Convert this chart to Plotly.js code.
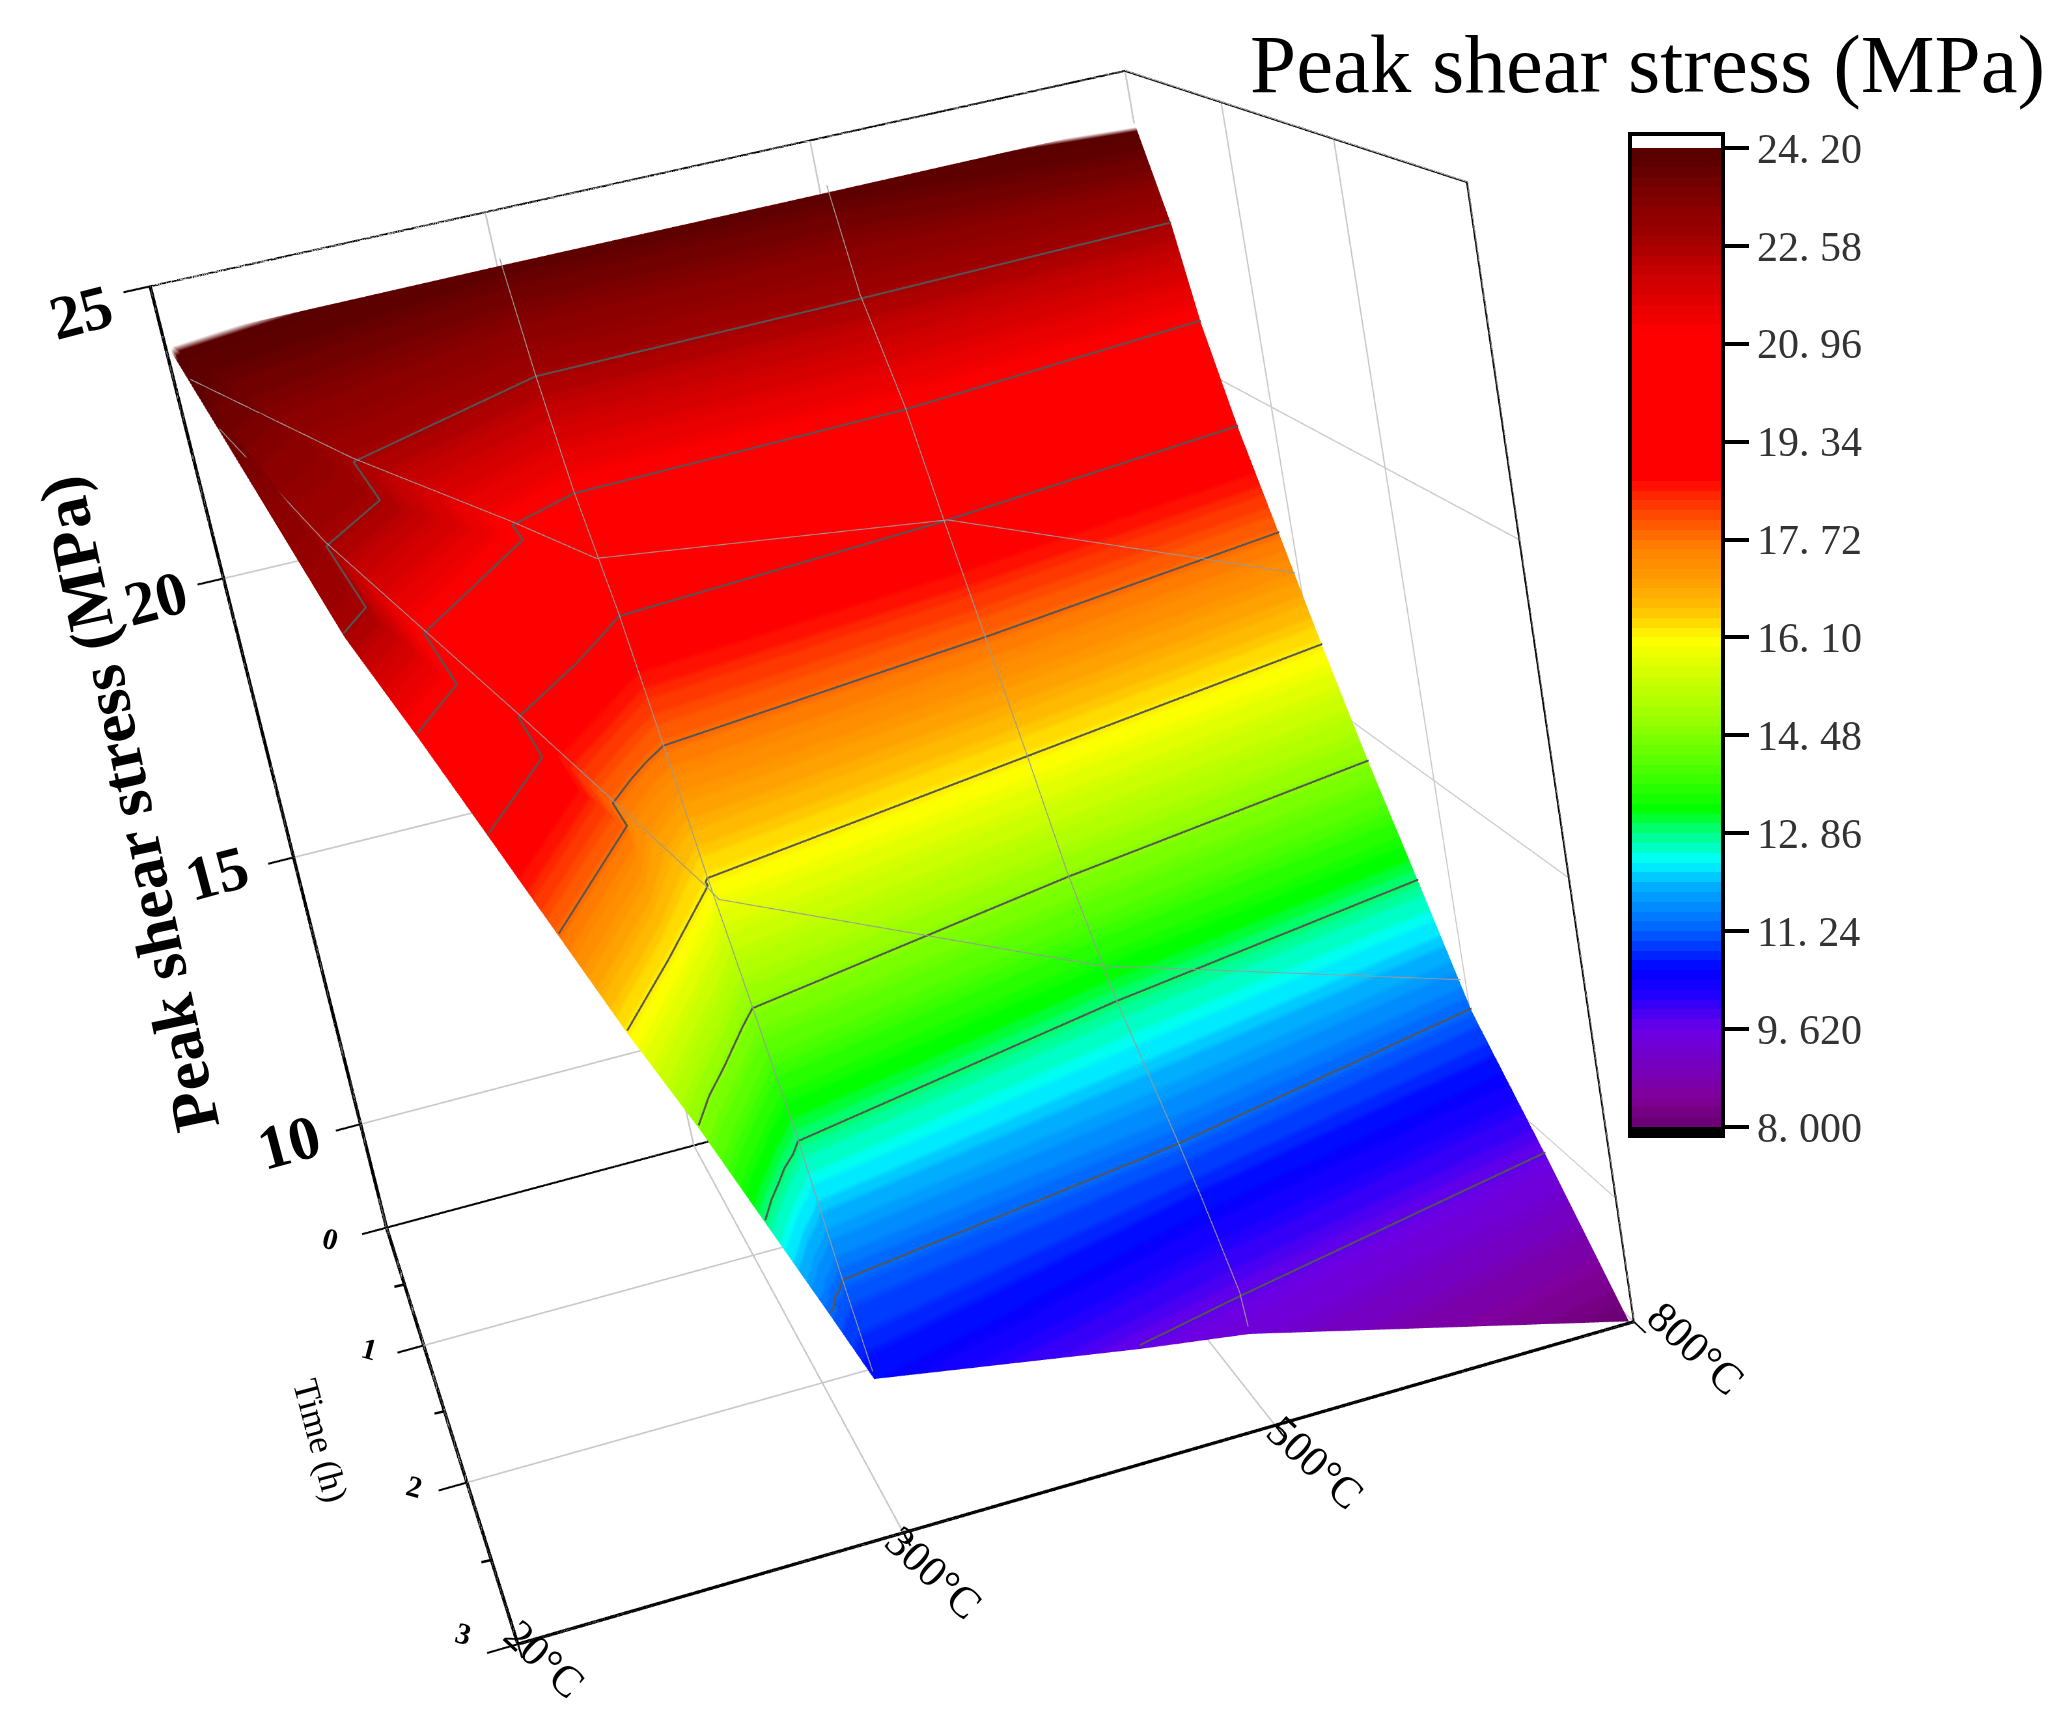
<!DOCTYPE html><html><head><meta charset="utf-8"><script src="https://cdn.plot.ly/plotly-3.0.1.min.js"></script></head><body style="margin:0;background:#fff;overflow:hidden;width:2070px;height:1735px;position:relative">
<div id="g" style="position:absolute;left:-1013px;top:-849px;width:4096px;height:3433px"></div>
<script>
// temperature categories sit at index 0..3 on the x axis, time (h) on the y axis
const tempLabels=['20°C','300°C','500°C','800°C'];
const timeLabels=['0','1','2','3'];
const stressTicks=[10,15,20,25];
const minorTicks=[0.5,1.5,2.5];
// surface vertices: one row per stress level
const tempRows=[
[0,0,0,0,0,1.01,2.02,2.97],
[0.17,0.24,0.22,0.40,0.39,0.99,1.98,2.97],
[0.28,0.42,0.41,0.78,0.78,0.99,1.99,2.98],
[0.39,0.60,0.60,0.81,0.90,1.00,1.99,2.98],
[0.50,0.79,0.79,0.87,0.93,1.00,1.99,2.99],
[0.61,0.79,0.98,0.99,0.99,1.00,1.99,2.99],
[0.73,0.79,0.86,0.91,0.96,1.01,1.99,2.99],
[0.84,0.88,0.92,0.95,0.99,1.02,2.00,2.99],
[0.95,0.97,0.98,1.00,1.01,1.02,2.01,2.99],
[1.01,1.01,1.01,1.01,1.01,1.01,2.01,2.99],
[1.70,1.70,1.70,1.70,1.70,1.70,2.01,2.99],
[1.70,1.70,1.70,1.70,1.70,1.70,1.99,2.99]];
const timeRows=[
[0.16,0.16,0.16,0.16,0.16,0.02,0.02,0.12],
[2.99,2.85,2.09,1.69,1.11,0.48,0.43,0.35],
[2.98,2.62,2.03,1.24,1.03,0.81,0.73,0.46],
[2.94,2.40,1.97,1.58,1.39,1.17,0.98,0.68],
[2.92,2.19,1.96,1.78,1.66,1.54,1.25,0.90],
[2.90,2.46,1.97,1.94,1.91,1.88,1.52,1.16],
[2.89,2.71,2.54,2.41,2.28,2.16,1.77,1.44],
[2.89,2.77,2.67,2.59,2.51,2.43,2.04,1.74],
[2.89,2.85,2.80,2.77,2.74,2.71,2.43,2.05],
[2.99,2.99,2.99,2.99,2.99,2.99,2.60,2.24],
[2.95,2.95,2.95,2.95,2.95,2.95,2.83,2.51],
[2.95,2.95,2.95,2.95,2.95,2.95,2.94,2.99]];
const stressRows=[
[24.2,24.2,24.2,24.2,24.2,24.1,24.1,24.2],
[22.5,22.58,22.58,22.58,22.58,22.58,22.58,22.58],
[20.96,20.96,20.96,20.96,20.96,20.96,20.96,20.96],
[19.34,19.34,19.34,19.34,19.34,19.34,19.34,19.34],
[17.72,17.72,17.72,17.72,17.72,17.72,17.72,17.72],
[16.1,16.1,16.1,16.1,16.1,16.1,16.1,16.1],
[14.48,14.48,14.48,14.48,14.48,14.48,14.48,14.48],
[12.86,12.86,12.86,12.86,12.86,12.86,12.86,12.9],
[11.24,11.24,11.24,11.24,11.24,11.24,11.24,11.24],
[10.4,10.4,10.4,10.4,10.4,10.4,10.6,10.6],
[9.62,9.62,9.62,9.62,9.62,9.62,9.62,9.7],
[9.62,9.62,9.62,9.62,9.62,9.62,9.35,8.0]];
const colorRows=[
[24.2,24.2,24.2,24.2,24.2,23.9,23.9,24.2],
[22.58,22.58,22.58,22.58,22.58,22.58,22.58,22.58],
[20.96,20.96,20.96,20.96,20.96,20.96,20.96,20.96],
[19.34,19.34,19.34,19.34,19.34,19.34,19.34,19.34],
[17.72,17.72,17.72,17.72,17.72,17.72,17.72,17.72],
[16.1,16.1,16.1,16.1,16.1,16.1,16.1,16.1],
[14.48,14.48,14.48,14.48,14.48,14.48,14.48,14.48],
[12.86,12.86,12.86,12.86,12.86,12.86,12.86,12.86],
[11.24,11.24,11.24,11.24,11.24,11.24,11.24,11.24],
[10.6,10.6,10.6,10.6,10.6,10.6,10.6,10.6],
[9.62,9.62,9.62,9.62,9.62,9.62,9.62,9.62],
[9.62,9.62,9.62,9.62,9.62,9.62,9.35,8.0]];
// mesh lines of the measured grid at 1 h and 2 h: [temp index, time, stress]
const meshHour1=[[0.03,0.69,23.9],[0.39,1.11,22.58],[0.78,1.03,20.96],[0.99,1.01,20.05],[2.00,0.99,19.30],[2.99,1.00,17.07]];
const meshHour2=[[0.06,1.21,23.57],[0.22,2.09,22.58],[0.41,2.03,20.96],[0.60,1.97,19.34],[0.79,1.96,17.72],[0.98,1.97,16.1],[1.01,1.95,15.80],[1.99,1.97,13.28],[2.99,1.99,11.56]];
// colour bar
const barTickVals=[8,9.62,11.24,12.86,14.48,16.1,17.72,19.34,20.96,22.58,24.2];
const barTickText=['8. 000','9. 620','11. 24','12. 86','14. 48','16. 10','17. 72','19. 34','20. 96','22. 58','24. 20'];
const colorVals=[7.85,8,8.5,9.62,10.2,10.6,11.24,12,12.4,12.88,13.26,13.8,14.48,14.8,15.47,16.05,16.3,16.57,17,17.6,17.9,18.22,18.5,18.72,21.1,21.7,22.26,22.7,23.4,23.9,24.2];
const colorHex=['#000000','#6a0070','#80009a','#6a00e8','#2000ff','#0000ff','#0060ff','#00b0ff','#00ffff','#00ff80','#00ff00','#40ff00','#80ff00','#a0ff00','#d0ff00','#ffff00','#ffe000','#ffc000','#ffa000','#ff8000','#ff6000','#ff4000','#ff2000','#ff0000','#ff0000','#e00000','#c00000','#a00000','#800000','#600000','#580000'];

const cmin=7.85,cmax=24.43,bands=100,step=(24.2-8)/bands;
function col(v){for(let i=0;i<colorVals.length-1;i++)if(v<=colorVals[i+1]){const f=(v-colorVals[i])/(colorVals[i+1]-colorVals[i]);const a=[1,3,5].map(k=>parseInt(colorHex[i].substr(k,2),16)),b=[1,3,5].map(k=>parseInt(colorHex[i+1].substr(k,2),16));return a.map((n,j)=>Math.round(n+(b[j]-n)*f))}return [88,0,0]}
const n=x=>(x-cmin)/(cmax-cmin);const scale=[[0,'#000'],[n(8),'#000']];
for(let i=0;i<bands;i++){const a=8+i*step,b=8+(i+1)*step,cc='rgb('+col(a+step/2)+')';scale.push([n(a),cc],[n(b),cc])}
scale.push([n(8+bands*step),'#fff'],[1,'#fff']);
function lineSet(paths,lift){const x=[],y=[],z=[];for(const p of paths){for(const q of p){x.push(q[0]);y.push(q[1]);z.push(q[2]+lift)}x.push(null);y.push(null);z.push(null)}return {x,y,z}}
const rowPts=(r,from)=>tempRows[r].map((v,j)=>[v,timeRows[r][j],stressRows[r][j]]).slice(from||0);
const colPts=(j,cnt)=>tempRows.map((r,i)=>[r[j],timeRows[i][j],stressRows[i][j]]).slice(0,cnt);
const contourPaths=[1,2,3,4,5,6,7,8].map(r=>rowPts(r)).concat([rowPts(10,5)]);
const meshPaths=[meshHour1,meshHour2,colPts(5,10),colPts(6,12)];
const boxPaths=[[[0,0,25],[3,0,25],[3,3,25],[3,3,8]],[[0,0,8],[3,0,8]]];
const ax=t=>Object.assign({showbackground:false,showgrid:true,gridcolor:'#c8c8c8',gridwidth:2.5,zeroline:false,showspikes:false,showticklabels:false,showline:true,linecolor:'#000',linewidth:5,ticks:'outside',ticklen:18,tickcolor:'#000',tickwidth:3,title:{text:''}},t);
const ann=(x,y,z,text,dx,dy,ang,size,bold)=>({x,y,z,text:bold?'<b>'+text+'</b>':text,showarrow:false,xshift:dx,yshift:-dy,textangle:ang,font:{family:'Liberation Serif',size,color:'#000'}});
const tick=(x,y,z,a,b)=>({x,y,z,text:' ',showarrow:true,arrowhead:0,arrowwidth:2.5,arrowcolor:'#000',standoff:0,ax:a,ay:b});
const zDx=[-69,-68,-77,-72],zDy=[26,20,16,18];
const tDx=[-56,-54,-52,-54],tDy=[11,3,4,-11];
const xDx=[27,30,40,62],xDy=[15,40,37,27];
const annos=[].concat(
 stressTicks.map((v,i)=>ann(0,0,v,String(v),zDx[3-i],zDy[3-i],-15,62,1)),
 timeLabels.map((s,i)=>ann(0,i,8,s,tDx[i],tDy[i],15,30,1)),
 tempLabels.map((s,i)=>ann(i,3,8,s,xDx[i],xDy[i],43,44,0)),
 minorTicks.map(v=>tick(0,v,8,-13,3)),minorTicks.map(v=>tick(v,3,8,2,8)),
 [ann(0,1.5,8,'Time (h)',-124,30,75,36,0),ann(0,0,17,'Peak shear stress (MPa)',-137,56,-102,65,1)]);
const lineTrace=(s,color,width)=>Object.assign({type:'scatter3d',mode:'lines',line:{color,width},hoverinfo:'skip',showlegend:false},s);
Plotly.newPlot('g',[{type:'surface',x:tempRows,y:timeRows,z:stressRows,surfacecolor:colorRows,cmin,cmax,colorscale:scale,lighting:{ambient:1,diffuse:0,specular:0,fresnel:0,roughness:1},hoverinfo:'skip',
 colorbar:{x:(1630+1013)/4096,xanchor:'left',y:1-(134+849)/3433,yanchor:'top',lenmode:'pixels',len:1002,thicknessmode:'pixels',thickness:93,xpad:0,ypad:0,outlinecolor:'#000',outlinewidth:4,tickmode:'array',tickvals:barTickVals,ticktext:barTickText,ticks:'outside',ticklen:24,tickwidth:4,tickcolor:'#000',tickfont:{family:'Liberation Serif',size:42,color:'#333'}}},
 lineTrace(lineSet(contourPaths,.06),'#555',3),lineTrace(lineSet(meshPaths,.12),'#999',1.5),lineTrace(lineSet(boxPaths,0),'#000',3)],
 {width:4096,height:3433,margin:{l:0,r:0,t:0,b:0},paper_bgcolor:'#fff',showlegend:false,
  title:{text:'Peak shear stress (MPa)',x:(1250+1013)/4096,xanchor:'left',y:1-(63+849)/3433,yanchor:'middle',font:{family:'Liberation Serif',size:83,color:'#000'}},
  scene:{domain:{x:[0,1],y:[0,1]},aspectmode:'manual',aspectratio:{x:1,y:0.987,z:1.011},camera:{eye:{x:-0.588,y:-3.614,z:1.106},center:{x:0.171,y:0.090,z:-0.161},up:{x:0.194,y:0.028,z:1},projection:{type:'perspective'}},
   xaxis:ax({range:[0,3],tickmode:'array',tickvals:[0,1,2,3]}),yaxis:ax({range:[3,0],tickmode:'array',tickvals:[0,1,2,3]}),zaxis:ax({range:[8,25],tickmode:'array',tickvals:stressTicks}),annotations:annos}},
 {displayModeBar:false});
</script></body></html>
